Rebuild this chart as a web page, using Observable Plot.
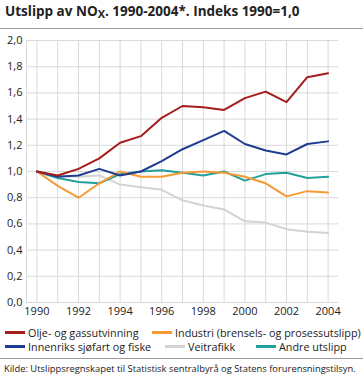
<!DOCTYPE html>
<html>
<head>
<meta charset="utf-8">
<script src="https://cdn.jsdelivr.net/npm/d3@7"></script>
<script src="https://cdn.jsdelivr.net/npm/@observablehq/plot@0.6"></script>
<style>
  body { margin: 0; width: 363px; height: 375px; background: #fff; font-family: "Open Sans", sans-serif; color: #222; overflow: hidden; position: relative; }
  #title { position: absolute; left: 5px; top: 2px; font-size: 13.5px; font-weight: bold; white-space: nowrap; }
  #title sub { font-size: 11px; vertical-align: -2px; }
  #rule1 { position: absolute; left: 0; top: 28px; width: 363px; height: 1px; background: #999; }
  #chart { position: absolute; left: 0; top: 30px; }
  .leg { position: absolute; font-size: 10.8px; white-space: nowrap; display: flex; align-items: center; }
  .sw { display: inline-block; width: 20px; height: 2.5px; margin-right: 3px; }
  #rule2 { position: absolute; left: 0; top: 358px; width: 363px; height: 1px; background: #999; }
  #foot { position: absolute; left: 4px; top: 362px; font-size: 9.4px; white-space: nowrap; }
</style>
</head>
<body>
<div id="title">Utslipp av NO<sub>X</sub>. 1990-2004*. Indeks 1990=1,0</div>
<div id="rule1"></div>
<div id="chart"></div>
<div id="legend"></div>
<div id="rule2"></div>
<div id="foot">Kilde: Utslippsregnskapet til Statistisk sentralbyrå og Statens forurensningstilsyn.</div>
<script>
const years = [1990, 1991, 1992, 1993, 1994, 1995, 1996, 1997, 1998, 1999, 2000, 2001, 2002, 2003, 2004];
const seriesNames = ["Olje- og gassutvinning", "Industri (brensels- og prosessutslipp)", "Innenriks sjøfart og fiske", "Veitrafikk", "Andre utslipp"];
const seriesColors = ["#a51c1c", "#f79a33", "#1f3c94", "#d3d3d3", "#22a09b"];
const olje =     [1.00, 0.97, 1.02, 1.10, 1.22, 1.27, 1.41, 1.50, 1.49, 1.47, 1.56, 1.61, 1.53, 1.72, 1.75];
const industri = [1.00, 0.89, 0.80, 0.91, 1.00, 0.96, 0.96, 0.99, 1.00, 0.99, 0.96, 0.91, 0.81, 0.85, 0.84];
const sjofart =  [1.00, 0.96, 0.97, 1.02, 0.97, 1.00, 1.08, 1.17, 1.24, 1.31, 1.21, 1.16, 1.13, 1.21, 1.23];
const veitrafikk=[1.00, 0.97, 0.96, 0.97, 0.90, 0.88, 0.86, 0.78, 0.74, 0.71, 0.62, 0.61, 0.56, 0.54, 0.53];
const andre =    [1.00, 0.95, 0.92, 0.91, 0.98, 1.00, 1.01, 0.99, 0.97, 1.00, 0.93, 0.98, 0.99, 0.95, 0.96];
const yTicks = [0, 0.2, 0.4, 0.6, 0.8, 1.0, 1.2, 1.4, 1.6, 1.8, 2.0];
const xTickLabels = [1990, 1992, 1994, 1996, 1998, 2000, 2002, 2004];

const seriesValues = [olje, industri, sjofart, veitrafikk, andre];
const drawOrder = [3, 4, 1, 2, 0];
const rows = [];
for (const s of drawOrder) {
  years.forEach((yr, i) => rows.push({ series: seriesNames[s], year: yr, value: seriesValues[s][i] }));
}
const fmt = d => d.toFixed(1).replace(".", ",");
const grid = "#d9d9d9";

const plot = Plot.plot({
  width: 363,
  height: 292,
  marginTop: 10,
  marginBottom: 20,
  marginLeft: 26,
  marginRight: 25,
  style: { fontFamily: "Open Sans, sans-serif", fontSize: "11px", color: "#222", background: "transparent" },
  x: { domain: [1989.5, 2004.5] },
  y: { domain: [0, 2] },
  color: { domain: seriesNames, range: seriesColors },
  marks: [
    Plot.gridY(yTicks, { stroke: grid, strokeOpacity: 1, strokeWidth: 1 }),
    Plot.gridX(years, { stroke: grid, strokeOpacity: 1, strokeWidth: 1 }),
    Plot.ruleX([1989.5], { stroke: grid, strokeWidth: 1 }),
    Plot.axisY(yTicks, { tickSize: 0, tickPadding: 4, tickFormat: fmt, label: null }),
    Plot.axisX(xTickLabels, { tickSize: 0, tickPadding: 5, tickFormat: d => String(d), label: null }),
    Plot.line(rows, { x: "year", y: "value", z: "series", stroke: "series", strokeWidth: 2 })
  ]
});
document.getElementById("chart").appendChild(plot);

// legend
const legendPos = [
  { s: 0, left: 5, top: 325 },
  { s: 1, left: 152, top: 325 },
  { s: 2, left: 5, top: 339 },
  { s: 3, left: 165, top: 339 },
  { s: 4, left: 256, top: 339 }
];
const leg = document.getElementById("legend");
for (const p of legendPos) {
  const d = document.createElement("div");
  d.className = "leg";
  d.style.left = p.left + "px";
  d.style.top = p.top + "px";
  d.innerHTML = `<span class="sw" style="background:${seriesColors[p.s]}"></span><span>${seriesNames[p.s]}</span>`;
  leg.appendChild(d);
}
</script>
</body>
</html>
